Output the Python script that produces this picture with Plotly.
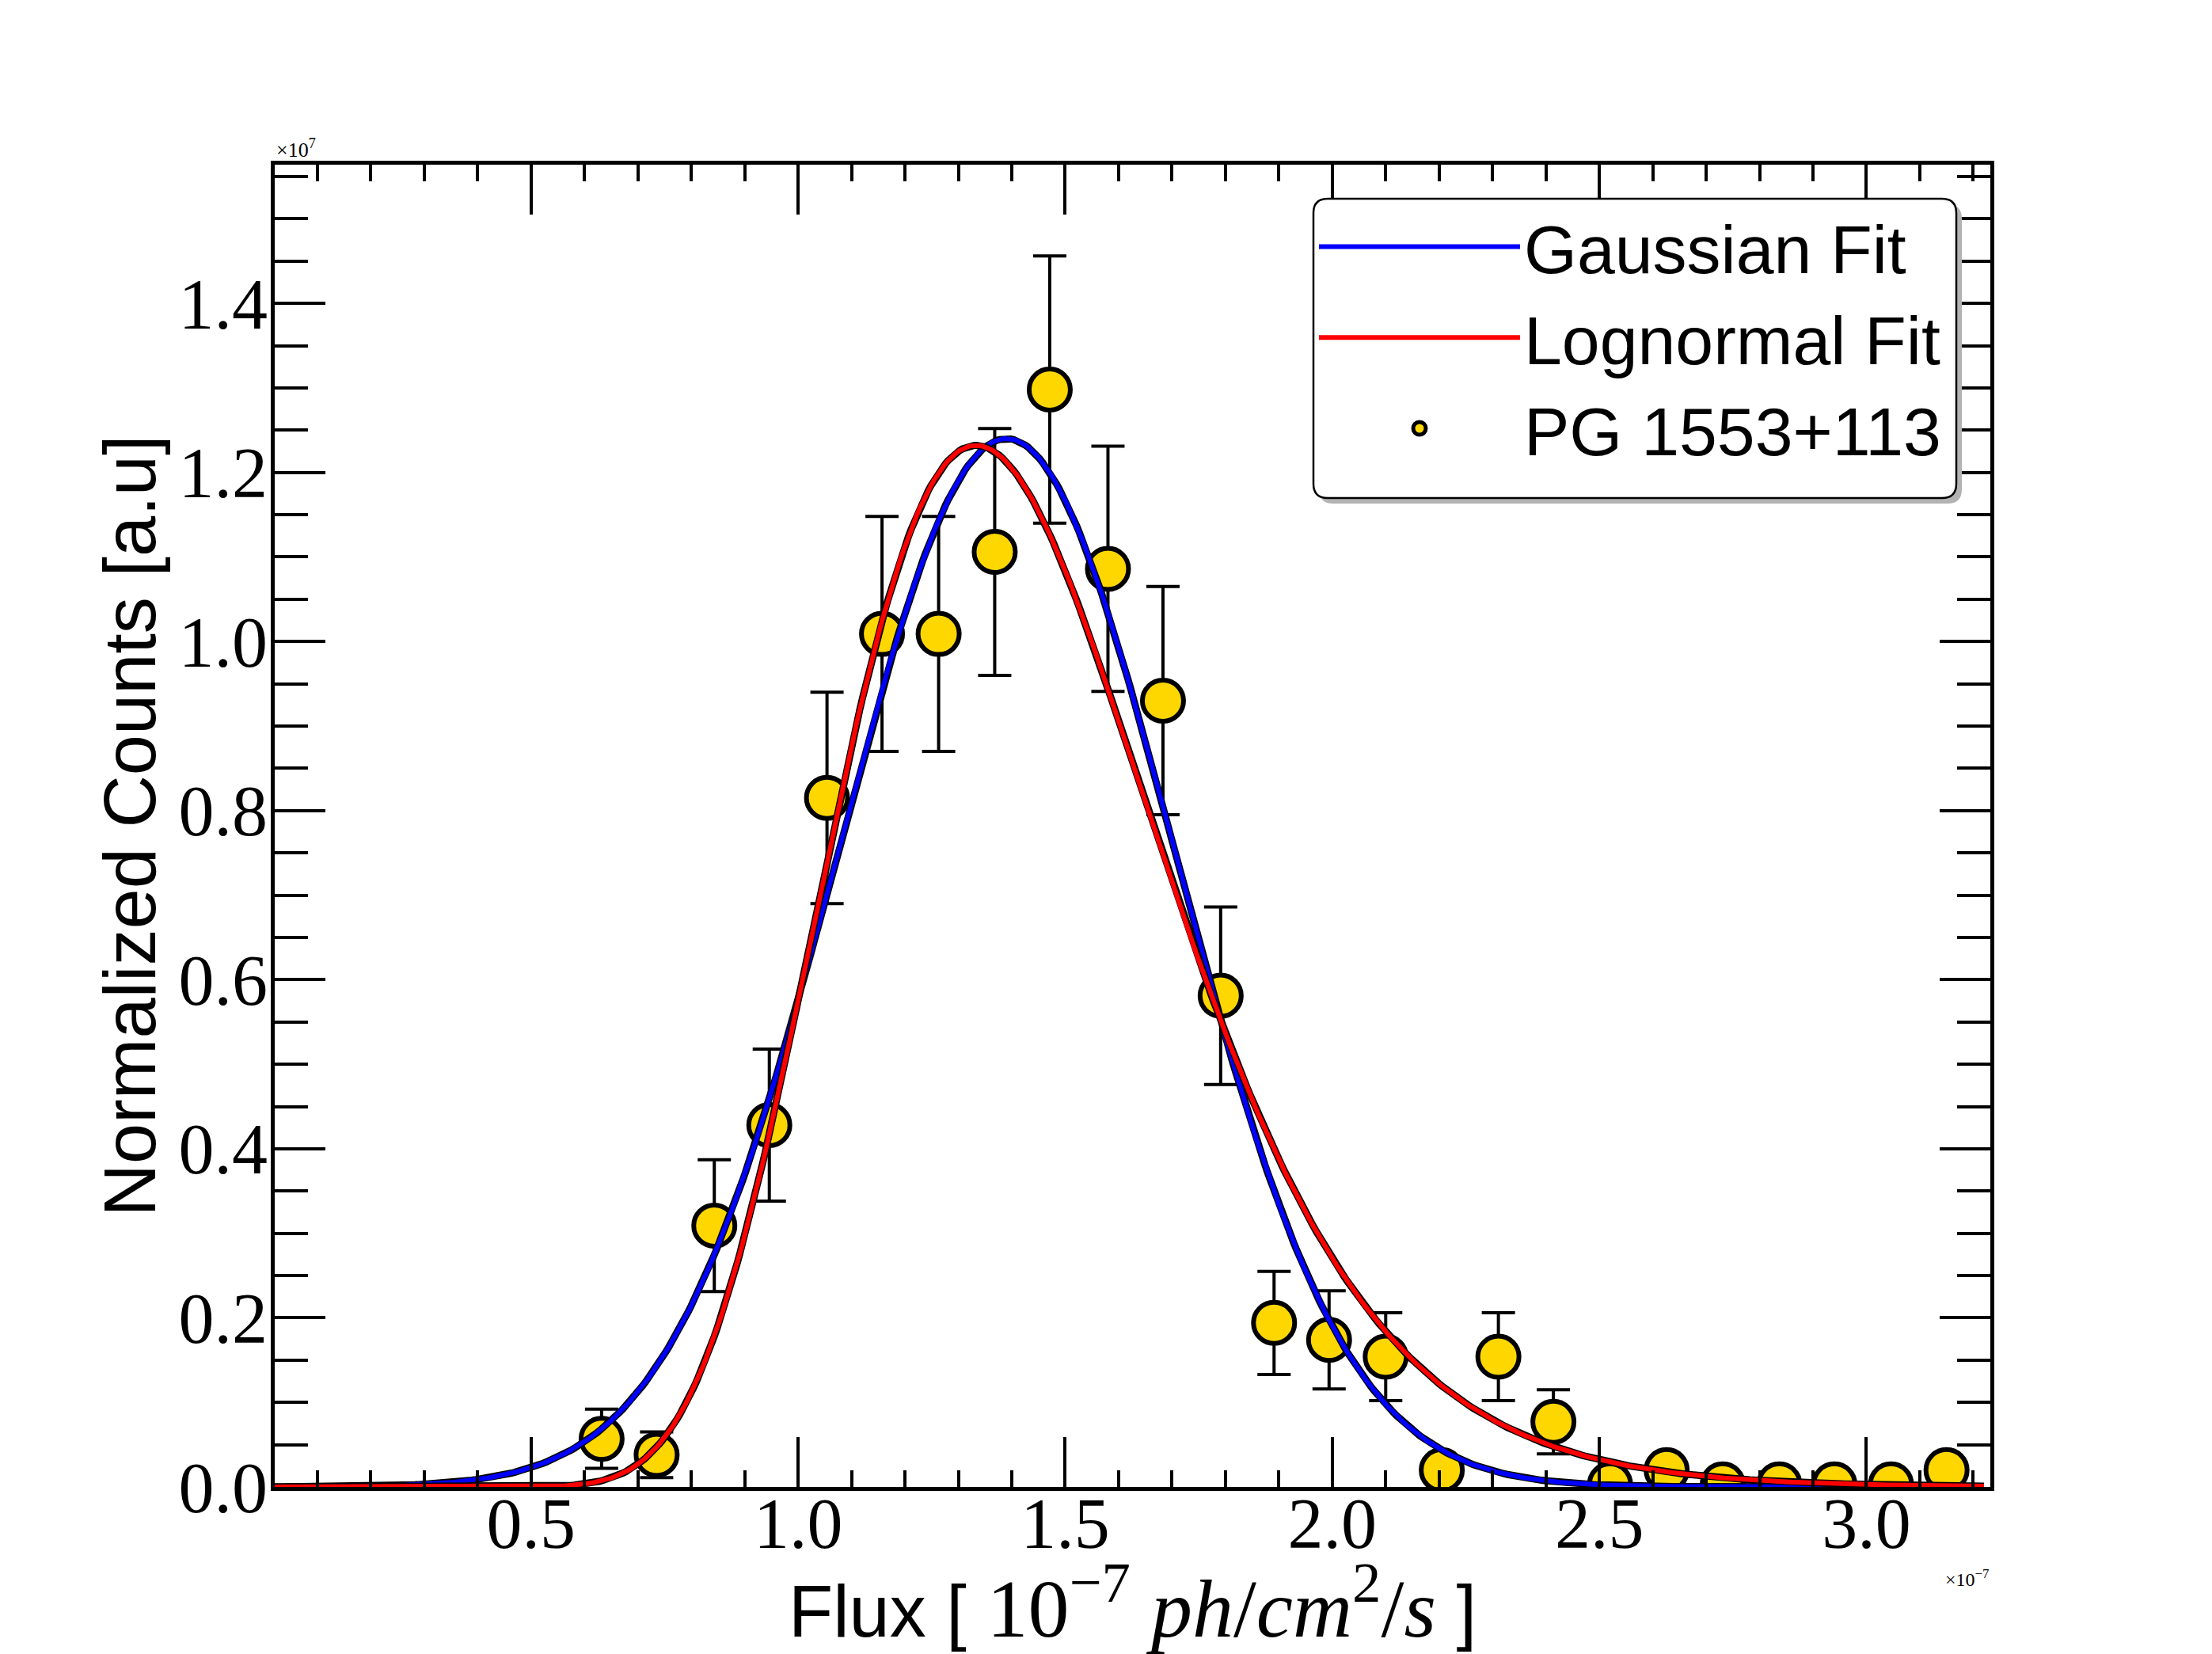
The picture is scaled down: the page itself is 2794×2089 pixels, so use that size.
import numpy as np
import plotly.graph_objects as go

# ---- data ----
flux = [0.632, 0.735, 0.843, 0.946, 1.054, 1.157, 1.263, 1.368, 1.471, 1.580,
        1.683, 1.791, 1.891, 1.994, 2.100, 2.205, 2.311, 2.414, 2.520, 2.626,
        2.731, 2.837, 2.940, 3.046, 3.150]
counts = [0.057, 0.038, 0.309, 0.428, 0.815, 1.009, 1.009, 1.106, 1.298, 1.086,
          0.930, 0.581, 0.194, 0.174, 0.154, 0.020, 0.154, 0.077, 0.003, 0.020,
          0.003, 0.003, 0.003, 0.003, 0.020]
count_err = [0.035, 0.027, 0.078, 0.090, 0.125, 0.139, 0.139, 0.146, 0.158, 0.145,
             0.135, 0.105, 0.061, 0.058, 0.052, 0.015, 0.052, 0.038, 0.004, 0.015,
             0.004, 0.004, 0.004, 0.004, 0.015]

# fit parameters (estimated from the drawn curves)
gauss_amp, gauss_mean, gauss_sigma = 1.24, 1.39, 0.315
logn_amp, logn_mode, logn_sigma = 1.232, 1.333, 0.233

x_tickvals = [0.5, 1.0, 1.5, 2.0, 2.5, 3.0]
y_tickvals = [0.0, 0.2, 0.4, 0.6, 0.8, 1.0, 1.2, 1.4]

# fit curves evaluated on a grid
xf = np.linspace(0.02, 3.22, 600)
gauss = gauss_amp * np.exp(-(xf - gauss_mean) ** 2 / (2 * gauss_sigma ** 2))
logn = logn_amp * np.exp(-(np.log(xf) - np.log(logn_mode)) ** 2 / (2 * logn_sigma ** 2))

W, H = 2794, 2089
L, R, T, B = 347, 2514, 208, 1878


def px(xp):
    return (xp - L) / (R - L)


def py(yp):
    return (B - yp) / (B - T)


def rounded_box(x0, y0, x1, y1, r):
    """Rounded rectangle path (pixel box -> paper coords)."""
    rx = r / (R - L)
    ry = r / (B - T)
    a, b = px(x0), px(x1)
    top, bot = py(y0), py(y1)
    return (f"M {a + rx},{top} L {b - rx},{top} Q {b},{top} {b},{top - ry} "
            f"L {b},{bot + ry} Q {b},{bot} {b - rx},{bot} "
            f"L {a + rx},{bot} Q {a},{bot} {a},{bot + ry} "
            f"L {a},{top - ry} Q {a},{top} {a + rx},{top} Z")


SANS = "Liberation Sans"
SERIF = "Liberation Serif"

fig = go.Figure()

fig.add_trace(go.Scatter(
    x=flux, y=counts, mode="markers", name="PG 1553+113",
    marker=dict(size=52, color="#FFD700", line=dict(color="black", width=6)),
    error_y=dict(type="data", array=count_err, visible=True, color="black",
                 thickness=4, width=21),
    legendrank=3,
))
fig.add_trace(go.Scatter(x=xf, y=gauss, mode="lines", showlegend=False,
                         line=dict(color="black", width=9), hoverinfo="skip"))
fig.add_trace(go.Scatter(x=xf, y=gauss, mode="lines", name="Gaussian Fit",
                         line=dict(color="#0000FF", width=6), legendrank=1))
fig.add_trace(go.Scatter(x=xf, y=logn, mode="lines", showlegend=False,
                         line=dict(color="black", width=9), hoverinfo="skip"))
fig.add_trace(go.Scatter(x=xf, y=logn, mode="lines", name="Lognormal Fit",
                         line=dict(color="#FF0000", width=6), legendrank=2))

axis_common = dict(
    showline=True, linecolor="black", linewidth=5, mirror="ticks",
    ticks="inside", tickcolor="black", tickwidth=4,
    showgrid=False, zeroline=False,
    tickfont=dict(family=SERIF, size=90, color="black"),
)

fig.update_xaxes(
    **axis_common,
    range=[0.02, 3.232], tickvals=x_tickvals, tickformat=".1f", ticklen=63,
    ticklabelstandoff=-36,
    minor=dict(dtick=0.1, tick0=0, ticks="inside", ticklen=21, tickwidth=4,
               tickcolor="black", showgrid=False),
    title=dict(
        text='Flux [ <span style="font-family:Liberation Serif;font-size:104px">10<sup>−7</sup> '
             '<i>ph</i>/<i>cm</i><sup>2</sup>/<i>s</i></span> ]',
        font=dict(family=SANS, size=92, color="black"), standoff=66),
)
fig.update_yaxes(
    **axis_common,
    range=[0, 1.564], tickvals=y_tickvals, tickformat=".1f", ticklen=64,
    ticklabelstandoff=-14,
    minor=dict(dtick=0.05, tick0=0, ticks="inside", ticklen=42, tickwidth=4,
               tickcolor="black", showgrid=False),
    title=dict(text="Normalized Counts [a.u]",
               font=dict(family=SANS, size=92, color="black"), standoff=0),
)

# legend frame: shadow + rounded white box (legend itself is transparent)
fig.add_shape(type="path", xref="paper", yref="paper",
              path=rounded_box(1666, 258, 2478, 636, 18),
              fillcolor="#b3b3b3", line=dict(width=0), layer="above")
fig.add_shape(type="path", xref="paper", yref="paper",
              path=rounded_box(1659, 251, 2471, 629, 18),
              fillcolor="white", line=dict(color="black", width=2.5), layer="above")

fig.update_layout(
    width=W, height=H,
    margin=dict(l=L, r=W - R, t=T, b=H - B, autoexpand=False),
    paper_bgcolor="white", plot_bgcolor="white",
    showlegend=True,
    legend=dict(x=px(1661), y=py(249), xanchor="left", yanchor="top",
                bgcolor="rgba(0,0,0,0)", borderwidth=0,
                font=dict(family=SANS, size=86, color="black"),
                itemwidth=254, tracegroupgap=0),
    annotations=[
        dict(text="×10<sup>7</sup>", xref="paper", yref="paper", x=0, y=1,
             xanchor="left", yanchor="bottom", showarrow=False, yshift=2,
             font=dict(family=SERIF, size=26, color="black")),
        dict(text="×10<sup>−7</sup>", xref="paper", yref="paper", x=1, y=0,
             xanchor="right", yanchor="top", showarrow=False, yshift=-98,
             font=dict(family=SERIF, size=24, color="black")),
    ],
)

fig.write_html("out.html")
